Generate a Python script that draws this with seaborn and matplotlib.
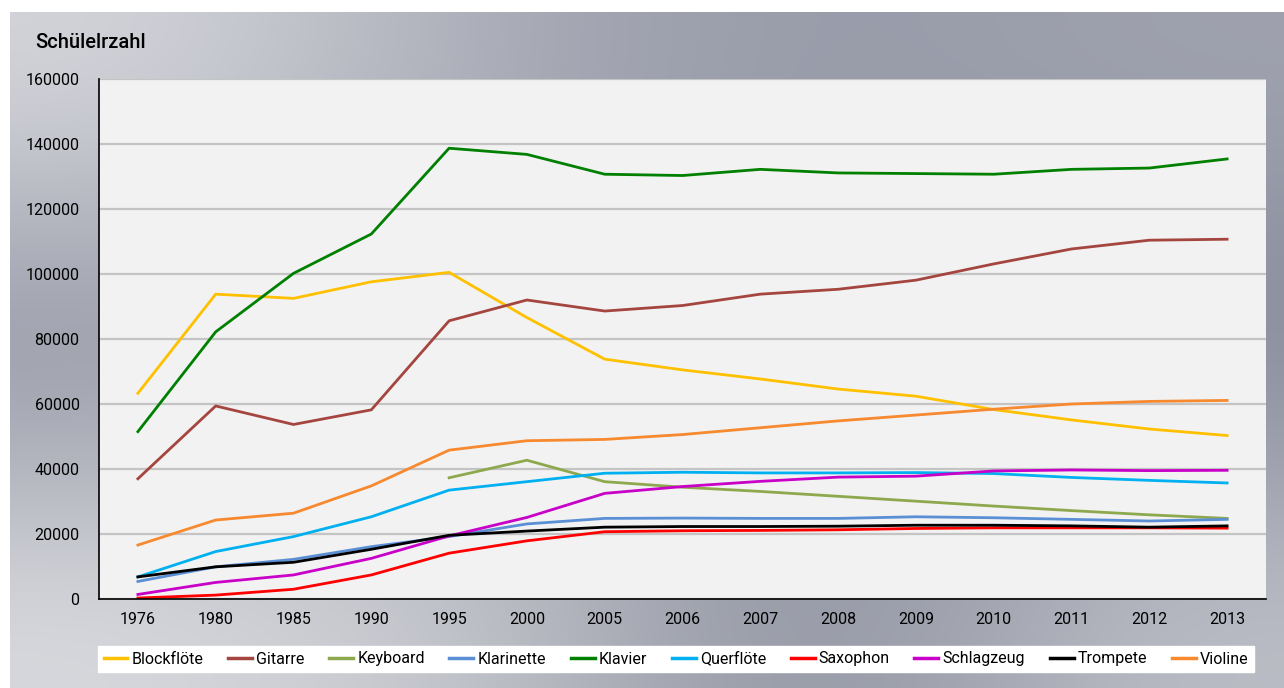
import numpy as np
import pandas as pd
import matplotlib
matplotlib.use("Agg")
import matplotlib.pyplot as plt
import seaborn as sns

# Daten
years = ["1976", "1980", "1985", "1990", "1995", "2000", "2005", "2006",
         "2007", "2008", "2009", "2010", "2011", "2012", "2013"]

blockfloete = [63300, 93800, 92500, 97600, 100500, 86600, 73800, 70500,
               67700, 64600, 62400, 58300, 55100, 52300, 50300]
gitarre = [37000, 59400, 53700, 58200, 85600, 92000, 88600, 90300,
           93800, 95300, 98100, 103100, 107700, 110400, 110700]
keyboard = [np.nan, np.nan, np.nan, np.nan, 37300, 42700, 36100, 34400,
            33100, 31600, 30100, 28600, 27200, 25900, 24800]
klarinette = [5400, 9900, 12200, 16100, 19200, 23100, 24800, 24900,
              24800, 24800, 25300, 25000, 24500, 24000, 24500]
klavier = [51500, 82200, 100200, 112300, 138700, 136800, 130700, 130300,
           132200, 131100, 130900, 130700, 132200, 132600, 135400]
querfloete = [6800, 14600, 19200, 25300, 33500, 36100, 38700, 39000,
              38800, 38800, 38900, 38600, 37400, 36500, 35700]
saxophon = [300, 1200, 3000, 7400, 14100, 17900, 20700, 21000,
            21100, 21300, 21700, 21900, 21900, 21900, 21800]
schlagzeug = [1400, 5100, 7400, 12500, 19400, 25100, 32500, 34600,
              36200, 37500, 37800, 39400, 39700, 39500, 39600]
trompete = [6800, 9900, 11300, 15300, 19600, 20900, 22100, 22300,
            22300, 22400, 22700, 22700, 22500, 22100, 22500]
violine = [16600, 24300, 26400, 34800, 45800, 48700, 49100, 50600,
           52700, 54800, 56600, 58400, 60000, 60800, 61100]

series = {
    "Blockflöte": blockfloete,
    "Gitarre": gitarre,
    "Keyboard": keyboard,
    "Klarinette": klarinette,
    "Klavier": klavier,
    "Querflöte": querfloete,
    "Saxophon": saxophon,
    "Schlagzeug": schlagzeug,
    "Trompete": trompete,
    "Violine": violine,
}
farben = ["#FFC000", "#A5453F", "#8EA84E", "#5B8FD5", "#008000",
          "#00B0F0", "#FF0000", "#C800C8", "#000000", "#F7892F"]

df = pd.DataFrame(series, index=years).reset_index(names="Jahr")
df = df.melt(id_vars="Jahr", var_name="Instrument", value_name="Schüler")

plt.rcParams["font.family"] = ["Roboto", "DejaVu Sans"]

fig = plt.figure(figsize=(12.84, 6.88), dpi=100)
fig.patch.set_facecolor("white")

# Hintergrund-Verlauf (grau)
bg = fig.add_axes([10 / 1284, 0, 1 - 10 / 1284, 1 - 12 / 688])
grid = np.array([
    [[214, 215, 220], [168, 171, 182], [150, 153, 167], [160, 163, 175]],
    [[136, 140, 155], [170, 172, 182], [140, 144, 158], [130, 134, 150]],
    [[218, 219, 223], [196, 198, 204], [138, 142, 156], [190, 192, 200]],
]) / 255.0
bg.imshow(grid, aspect="auto", interpolation="bicubic", extent=[0, 1, 0, 1])
bg.set_axis_off()
bg.set_zorder(-10)

ax = fig.add_axes([99 / 1284, 89 / 688, (1266 - 99) / 1284, 520 / 688])
ax.set_facecolor("#F2F2F2")

sns.lineplot(data=df, x="Jahr", y="Schüler", hue="Instrument",
             hue_order=list(series.keys()), palette=farben,
             linewidth=2.0, ax=ax, sort=False)

ax.set_xlim(-0.5, len(years) - 0.5)
ax.set_ylim(0, 160000)
ax.set_yticks(range(0, 160001, 20000))
ax.yaxis.grid(True, color="#C4C4C4", linewidth=1.6)
ax.set_axisbelow(True)
ax.tick_params(axis="both", length=0, labelsize=11.5, colors="black")
ax.tick_params(axis="y", pad=14)
ax.tick_params(axis="x", pad=9)
ax.set_xlabel("")
ax.set_ylabel("")
for s in ["top", "right"]:
    ax.spines[s].set_visible(False)
for s in ["left", "bottom"]:
    ax.spines[s].set_color("black")
    ax.spines[s].set_linewidth(1.2)

fig.text(35 / 1284, 1 - 42 / 688, "Schülelrzahl", fontsize=14.5,
         fontweight="medium", va="center", ha="left")

handles, labels = ax.get_legend_handles_labels()
ax.get_legend().remove()
leg = fig.legend(handles, labels, ncol=10, loc="center",
                 bbox_to_anchor=(676 / 1284, 1 - 659 / 688),
                 fontsize=11.5, frameon=True, fancybox=False,
                 handlelength=1.5, handletextpad=0.25, columnspacing=1.55,
                 borderpad=0.35)
leg.get_frame().set_facecolor("white")
leg.get_frame().set_edgecolor("white")
leg.get_frame().set_alpha(1)
for line in leg.get_lines():
    line.set_linewidth(2.5)

fig.savefig("out.png", dpi=100)
